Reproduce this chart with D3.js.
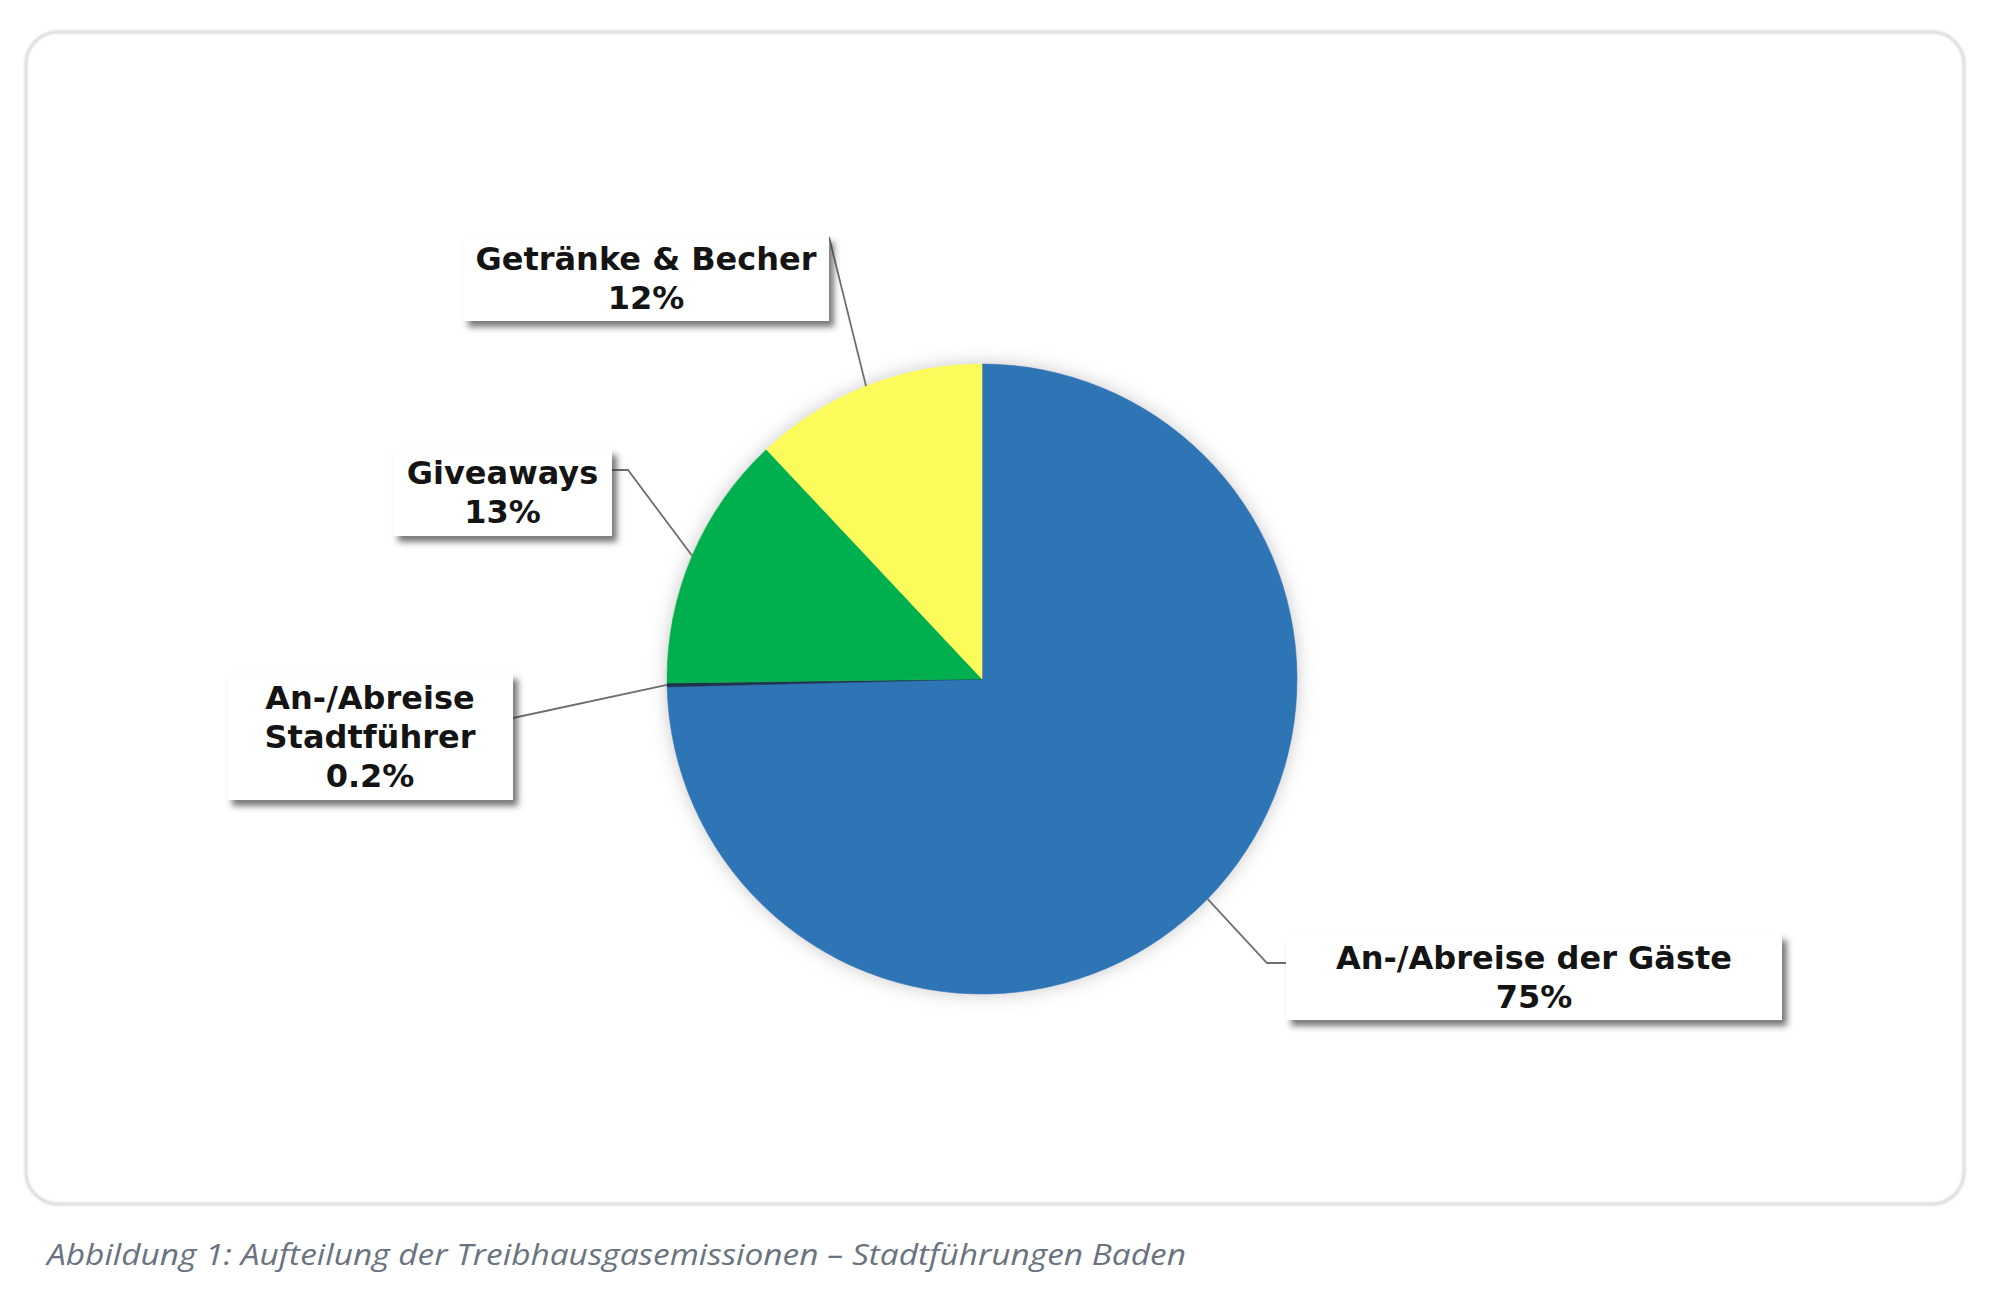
<!DOCTYPE html>
<html><head><meta charset="utf-8">
<script src="https://cdn.jsdelivr.net/npm/d3@7/dist/d3.min.js"></script>
<style>
html,body{margin:0;padding:0;background:#fff;}
svg{display:block;}
</style></head>
<body>
<svg id="chart" width="2000" height="1300"></svg>
<script>
// ---- data ----
const categories = ["An-/Abreise der Gäste", "An-/Abreise Stadtführer", "Giveaways", "Getränke & Becher"];
const labelLines = [["An-/Abreise der Gäste"], ["An-/Abreise", "Stadtführer"], ["Giveaways"], ["Getränke & Becher"]];
const values = [74.6, 0.2, 13.2, 12.0];
const valueLabels = ["75%", "0.2%", "13%", "12%"];
const colors = ["#2e74b5", "#1d3350", "#00b050", "#fbfb5c"];
const caption = "Abbildung 1: Aufteilung der Treibhausgasemissionen – Stadtführungen Baden";

// ---- layout ----
const svg = d3.select("#chart");
const cx = 982, cy = 679, R = 315;

const defs = svg.append("defs");
const f1 = defs.append("filter").attr("id","boxShadow").attr("x","-10%").attr("y","-20%").attr("width","130%").attr("height","150%");
f1.append("feDropShadow").attr("dx",5).attr("dy",6).attr("stdDeviation",3).attr("flood-color","#333").attr("flood-opacity",0.65);
const f2 = defs.append("filter").attr("id","pieShadow").attr("x","-20%").attr("y","-20%").attr("width","140%").attr("height","140%");
f2.append("feDropShadow").attr("dx",0).attr("dy",0).attr("stdDeviation",9).attr("flood-color","#888").attr("flood-opacity",0.45);
const f3 = defs.append("filter").attr("id","frameShadow").attr("x","-5%").attr("y","-5%").attr("width","110%").attr("height","110%");
f3.append("feGaussianBlur").attr("stdDeviation",1.2);

// outer frame
svg.append("rect").attr("x",26).attr("y",32).attr("width",1938).attr("height",1172)
  .attr("rx",32).attr("ry",32).attr("fill","#fff").attr("stroke","#d9d9d9").attr("stroke-width",3)
  .attr("filter","url(#frameShadow)");

const data = categories.map((c,i)=>({name:c, lines:labelLines[i], value:values[i], label:valueLabels[i], color:colors[i]}));

const pie = d3.pie().sort(null).value(d=>d.value);
const arcs = pie(data);
const arc = d3.arc().innerRadius(0).outerRadius(R);

const g = svg.append("g").attr("transform",`translate(${cx},${cy})`);
const pieG = g.append("g").attr("filter","url(#pieShadow)");
pieG.selectAll("path").data(arcs).join("path")
  .attr("d",arc).attr("fill",d=>d.data.color)
  .attr("stroke",d=>d.data.color).attr("stroke-width",0.6);

// label boxes (positions in page coords)
const boxes = [
  {x:1286, y:934, w:496, h:86},
  {x:227,  y:673, w:286, h:127},
  {x:393,  y:449, w:219, h:87},
  {x:463,  y:236, w:366, h:85}
];
function edgePoint(a){
  const m = (a.startAngle + a.endAngle)/2;
  return [cx + R*Math.sin(m), cy - R*Math.cos(m)];
}
const leaders = [
  (p)=>[p,[1267,963],[1286,963]],
  (p)=>[p,[513,718]],
  (p)=>[p,[628,470],[612,470]],
  (p)=>[p,[829,237]]
];
const line = d3.line();
arcs.forEach((a,i)=>{
  const p = edgePoint(a);
  svg.append("path").attr("d",line(leaders[i](p)))
    .attr("fill","none").attr("stroke","#6e6e6e").attr("stroke-width",1.8);
});

const lblG = svg.append("g");
arcs.forEach((a,i)=>{
  const b = boxes[i];
  const bg = lblG.append("g");
  bg.append("rect").attr("x",b.x).attr("y",b.y).attr("width",b.w).attr("height",b.h)
    .attr("fill","#fff").attr("filter","url(#boxShadow)");
  const lines = a.data.lines.concat([a.data.label]);
  const lh = 39;
  const total = (lines.length-1)*lh;
  const midY = b.y + b.h/2;
  const firstBase = midY - total/2 + 11;
  const t = bg.append("text").attr("text-anchor","middle")
    .attr("font-family","'DejaVu Sans', Verdana, sans-serif").attr("font-weight","bold")
    .attr("font-size",32).attr("fill","#141414");
  lines.forEach((s,k)=>{
    t.append("tspan").attr("x",b.x+b.w/2).attr("y",firstBase+k*lh).text(s);
  });
});

// caption
svg.append("text").attr("x",47).attr("y",1265)
  .attr("font-family","'Open Sans', 'Noto Sans', sans-serif").attr("font-style","italic")
  .attr("font-size",29).attr("fill","#6b7380")
  .attr("textLength",1139).attr("lengthAdjust","spacingAndGlyphs")
  .text(caption);
</script>
</body></html>
